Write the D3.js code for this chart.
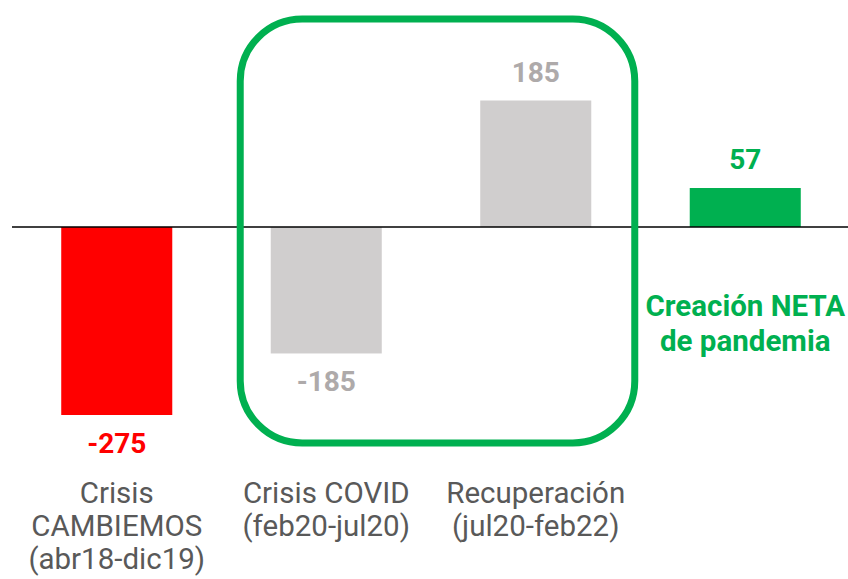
<!DOCTYPE html>
<html>
<head>
<meta charset="utf-8">
<script src="https://cdn.jsdelivr.net/npm/d3@7"></script>
<style>
  body { margin: 0; background: #fff; }
  text { font-family: Roboto, sans-serif; }
</style>
</head>
<body>
<script>
var width = 848, height = 579;

// Data
var categories = ["cambiemos", "covid", "recup", "neta"];
var values = [-275, -185, 185, 57];
var catLabels = [
  ["Crisis", "CAMBIEMOS", "(abr18-dic19)"],
  ["Crisis COVID", "(feb20-jul20)"],
  ["Recuperación", "(jul20-feb22)"],
  []
];
var barColors = ["#ff0000", "#d0cece", "#d0cece", "#00b050"];
var valueColors = ["#ff0000", "#aeaaaa", "#aeaaaa", "#00b050"];
var netaLabel = ["Creación NETA", "de pandemia"];

var svg = d3.select("body").append("svg")
  .attr("width", width)
  .attr("height", height);

// Scales
var xScale = d3.scaleBand()
  .domain(categories)
  .range([12, 850])
  .paddingInner(0.47)
  .paddingOuter(0.235);

var yScale = d3.scaleLinear()
  .domain([-275, 185])
  .range([415, 100.5]);

var bw = xScale.bandwidth();

// Bars
svg.selectAll("rect.bar")
  .data(values)
  .enter()
  .append("rect")
    .attr("class", "bar")
    .attr("x", (d, i) => xScale(categories[i]))
    .attr("y", d => yScale(Math.max(0, d)))
    .attr("width", bw)
    .attr("height", d => Math.abs(yScale(d) - yScale(0)))
    .attr("fill", (d, i) => barColors[i]);

// Zero line
svg.append("line")
  .attr("x1", 12).attr("x2", width)
  .attr("y1", yScale(0)).attr("y2", yScale(0))
  .attr("stroke", "#000")
  .attr("stroke-width", 1.5);

// Green rounded box round the pandemic bars
svg.append("rect")
  .attr("x", xScale("covid") - 30.5)
  .attr("y", 19)
  .attr("width", xScale("recup") + bw + 43.5 - (xScale("covid") - 30.5))
  .attr("height", 424)
  .attr("rx", 62).attr("ry", 62)
  .attr("fill", "none")
  .attr("stroke", "#00b050")
  .attr("stroke-width", 7);

// Value labels
svg.selectAll("text.val")
  .data(values)
  .enter()
  .append("text")
    .attr("class", "val")
    .attr("x", (d, i) => xScale(categories[i]) + bw / 2)
    .attr("y", d => d >= 0 ? yScale(d) - 19 : yScale(d) + 38)
    .attr("text-anchor", "middle")
    .attr("font-size", "28px")
    .attr("font-weight", "bold")
    .attr("fill", (d, i) => valueColors[i])
    .text(d => d);

// Category labels
categories.forEach(function(c, i) {
  var t = svg.append("text")
    .attr("text-anchor", "middle")
    .attr("font-size", "29.5px")
    .attr("fill", "#595959");
  catLabels[i].forEach(function(line, j) {
    t.append("tspan")
      .attr("x", xScale(c) + bw / 2)
      .attr("y", 503 + j * 33)
      .text(line);
  });
});

// Net creation label
var nt = svg.append("text")
  .attr("text-anchor", "middle")
  .attr("font-size", "29.5px")
  .attr("font-weight", "bold")
  .attr("fill", "#00b050");
netaLabel.forEach(function(line, j) {
  nt.append("tspan")
    .attr("x", xScale("neta") + bw / 2)
    .attr("y", 316 + j * 35)
    .text(line);
});
</script>
</body>
</html>
